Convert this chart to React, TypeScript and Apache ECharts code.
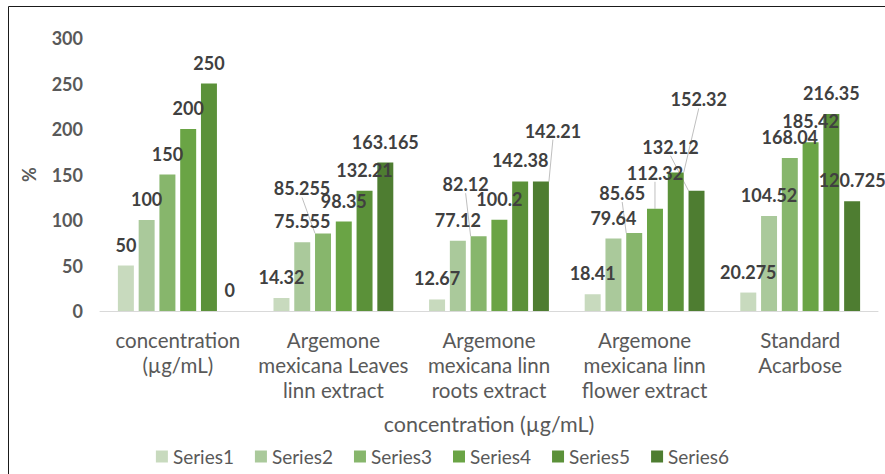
import React, { useEffect, useRef } from "react";
import * as echarts from "echarts";

// Extract groups shown along the category axis
const categories = [
  "concentration\n(µg/mL)",
  "Argemone\nmexicana Leaves\nlinn extract",
  "Argemone\nmexicana linn\nroots extract",
  "Argemone\nmexicana linn\nflower extract",
  "Standard\nAcarbose",
];

const seriesNames = ["Series1", "Series2", "Series3", "Series4", "Series5", "Series6"];

// Inhibition (%) per series, one value per group
const series1 = [50, 14.32, 12.67, 18.41, 20.275];
const series2 = [100, 75.555, 77.12, 79.64, 104.52];
const series3 = [150, 85.255, 82.12, 85.65, 168.04];
const series4 = [200, 98.35, 100.2, 112.32, 185.42];
const series5 = [250, 132.21, 142.38, 152.32, 216.35];
const series6 = [0, 163.165, 142.21, 132.12, 120.725];

const seriesValues = [series1, series2, series3, series4, series5, series6];

const yTicks = { min: 0, max: 300, interval: 50 };

const palette = ["#c8dabe", "#aac99b", "#87b66c", "#6aa445", "#5b9139", "#4e7d31"];

// Labels nudged away from crowded neighbours: key = "series:group"
const labelShift: Record<string, [number, number]> = {
  "2:1": [-21, -24],
  "2:2": [-13, -31],
  "5:2": [12, -30],
  "2:3": [-12, -19],
  "3:3": [0, -15],
  "4:3": [23, -52],
  "5:3": [-26, -23],
};

const FONT = "Lato, 'Open Sans', sans-serif";

export default function App() {
  const ref = useRef<HTMLDivElement>(null);

  useEffect(() => {
    if (!ref.current) return;
    const chart = echarts.init(ref.current, undefined, { renderer: "svg" });

    chart.setOption({
      animation: false,
      backgroundColor: "#ffffff",
      textStyle: { fontFamily: FONT },
      grid: { left: 100, right: 7, top: 38, bottom: 163, containLabel: false },
      graphic: [
        {
          type: "rect",
          shape: { x: 8.5, y: 6.5, width: 900, height: 500 },
          style: { fill: "none", stroke: "#1a1a1a", lineWidth: 1 },
          silent: true,
          z: 100,
        },
      ],
      legend: {
        data: seriesNames,
        top: 442,
        left: "center",
        itemWidth: 12,
        itemHeight: 12,
        itemGap: 21,
        icon: "rect",
        textStyle: { color: "#595959", fontSize: 19, fontFamily: FONT },
      },
      xAxis: {
        type: "category",
        data: categories,
        axisTick: { show: false },
        axisLine: { lineStyle: { color: "#d9d9d9", width: 1 } },
        axisLabel: {
          color: "#595959",
          fontSize: 20.5,
          lineHeight: 25,
          margin: 16,
          interval: 0,
          fontFamily: FONT,
        },
        name: "concentration (µg/mL)",
        nameLocation: "middle",
        nameGap: 102,
        nameTextStyle: { color: "#595959", fontSize: 21.5, fontFamily: FONT },
      },
      yAxis: {
        type: "value",
        min: yTicks.min,
        max: yTicks.max,
        interval: yTicks.interval,
        splitLine: { show: false },
        axisLine: { show: false },
        axisTick: { show: false },
        axisLabel: {
          color: "#595959",
          fontSize: 18,
          fontWeight: "bold",
          margin: 17,
          fontFamily: FONT,
        },
        name: "%",
        nameLocation: "middle",
        nameGap: 62,
        nameRotate: 90,
        nameTextStyle: { color: "#595959", fontSize: 18, fontWeight: "bold", fontFamily: FONT },
      },
      series: seriesNames.map((name, si) => ({
        name,
        type: "bar",
        data: seriesValues[si].map((value, gi) => ({
          value,
          labelLine: { show: Boolean(labelShift[`${si}:${gi}`]) },
        })),
        barGap: "30%",
        barCategoryGap: "23%",
        itemStyle: { color: palette[si] },
        label: {
          show: true,
          position: "top",
          distance: 12,
          color: "#404040",
          fontSize: 18,
          fontWeight: "bold",
          fontFamily: FONT,
        },
        labelLine: {
          show: false,
          lineStyle: { color: "#bfbfbf", width: 1 },
        },
        labelLayout: (params: any) => {
          const shift = labelShift[`${params.seriesIndex}:${params.dataIndex}`];
          return shift ? { dx: shift[0], dy: shift[1] } : {};
        },
      })),
    });

    return () => chart.dispose();
  }, []);

  return (
    <div
      ref={ref}
      style={{ position: "fixed", left: 0, top: 0, width: 885, height: 474 }}
    />
  );
}
